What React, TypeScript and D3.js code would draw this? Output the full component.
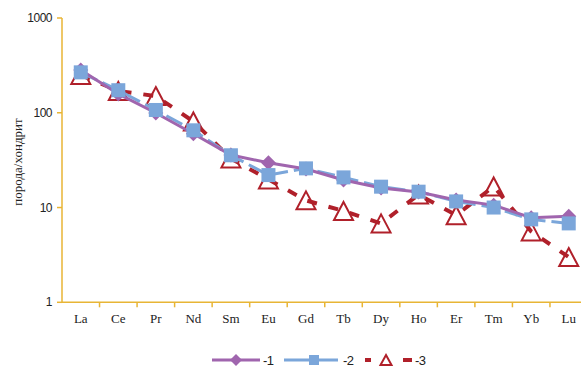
import React from "react";
import * as d3 from "d3";

// REE abundances normalized to chondrite
const elements = ["La", "Ce", "Pr", "Nd", "Sm", "Eu", "Gd", "Tb", "Dy", "Ho", "Er", "Tm", "Yb", "Lu"];
const series1 = [283, 158, 99.5, 60, 35.8, 29.7, 25.5, 19.5, 16.1, 14.6, 12.0, 10.6, 7.8, 8.1];
const series2 = [267, 173, 107, 65.3, 35.6, 22.0, 25.9, 20.8, 16.6, 14.7, 11.6, 10.0, 7.5, 6.8];
const series3 = [250, 170, 150, 81, 32.9, 19.8, 11.9, 9.2, 6.8, 13.7, 8.3, 16.7, 5.6, 3.0];
const yTicks = [1, 10, 100, 1000];
const legendLabels = ["-1", "-2", "-3"];

const W = 581;
const H = 367;
const left = 62;
const top = 18;
const bottom = 302.3;
const right = 587.5;

const AXIS = "#E8B535";
const PURPLE = "#A065AE";
const BLUE = "#7BA6DA";
const RED = "#B0202A";

export default function App() {
  const x = d3.scaleBand<string>().domain(elements).range([left, right]).padding(0);
  const y = d3.scaleLog().domain([1, 1000]).range([bottom, top]);
  const cx = (e: string) => (x(e) as number) + x.bandwidth() / 2;

  const line = d3
    .line<[string, number]>()
    .x((d) => cx(d[0]))
    .y((d) => y(d[1]));

  const pts = (vals: number[]) => elements.map((e, i) => [e, vals[i]] as [string, number]);

  const diamond = (px: number, py: number, r: number, key: string) => (
    <path key={key} d={`M${px},${py - r}L${px + r},${py}L${px},${py + r}L${px - r},${py}Z`} fill={PURPLE} />
  );
  const square = (px: number, py: number, s: number, key: string) => (
    <rect key={key} x={px - s / 2} y={py - s / 2} width={s} height={s} fill={BLUE} />
  );
  const triangle = (px: number, py: number, w: number, h: number, key: string, sw = 2) => (
    <path
      key={key}
      d={`M${px},${py - h / 2}L${px + w / 2},${py + h / 2}L${px - w / 2},${py + h / 2}Z`}
      fill="none"
      stroke={RED}
      strokeWidth={sw}
      strokeLinejoin="miter"
    />
  );

  const ticks = d3.range(1, elements.length).map((i) => left + i * x.bandwidth());
  const legendY = 360;

  return (
    <svg width={W} height={H} style={{ position: "absolute", left: 0, top: 0, display: "block" }}>
      <rect width={W} height={H} fill="white" />

      {/* axes */}
      <line x1={left} y1={top} x2={left} y2={bottom} stroke={AXIS} strokeWidth={1.5} />
      <line x1={left} y1={bottom} x2={right} y2={bottom} stroke={AXIS} strokeWidth={1.5} />
      {yTicks.map((t) => (
        <g key={t}>
          <line x1={left - 5} x2={left} y1={y(t)} y2={y(t)} stroke={AXIS} strokeWidth={1.5} />
          <text
            x={left - 10}
            y={y(t) + 4}
            textAnchor="end"
            fontFamily="Liberation Sans, Arial, sans-serif"
            fontSize={12}
            fill="#222"
            letterSpacing={-0.5}
          >
            {t}
          </text>
        </g>
      ))}
      {ticks.map((tx, i) => (
        <line key={i} x1={tx} x2={tx} y1={bottom} y2={bottom + 5} stroke={AXIS} strokeWidth={1.5} />
      ))}
      {elements.map((e) => (
        <text
          key={e}
          x={cx(e)}
          y={323}
          textAnchor="middle"
          fontFamily="Liberation Serif, Times New Roman, serif"
          fontSize={13}
          fill="#222"
        >
          {e}
        </text>
      ))}
      <text
        transform={`translate(22,162) rotate(-90)`}
        textAnchor="middle"
        fontFamily="Liberation Serif, Times New Roman, serif"
        fontSize={13}
        fill="#222"
      >
        порода/хондрит
      </text>

      {/* series 3: dashed red with hollow triangles */}
      <path d={line(pts(series3)) || ""} fill="none" stroke={RED} strokeWidth={4} strokeDasharray="10,12" />
      {elements.map((e, i) => triangle(cx(e), y(series3[i]), 19, 18, "t" + e))}
      {/* series 2: long-dash blue */}
      <path d={line(pts(series2)) || ""} fill="none" stroke={BLUE} strokeWidth={3} strokeDasharray="18,6" />
      {/* series 1: solid purple with diamonds */}
      <path d={line(pts(series1)) || ""} fill="none" stroke={PURPLE} strokeWidth={3} />
      {elements.map((e, i) => diamond(cx(e), y(series1[i]), 7.5, "d" + e))}
      {/* series 2 squares */}
      {elements.map((e, i) => square(cx(e), y(series2[i]), 14, "s" + e))}

      {/* legend */}
      <line x1={212} x2={260} y1={legendY} y2={legendY} stroke={PURPLE} strokeWidth={3} />
      {diamond(236, legendY, 6, "ld")}
      <line x1={284} x2={338} y1={legendY} y2={legendY} stroke={BLUE} strokeWidth={3} />
      {square(314, legendY, 10, "ls")}
      <line x1={365} x2={371} y1={legendY} y2={legendY} stroke={RED} strokeWidth={4} />
      <line x1={403} x2={412} y1={legendY} y2={legendY} stroke={RED} strokeWidth={4} />
      {triangle(386, legendY, 11, 10, "lt", 2)}
      {legendLabels.map((l, i) => (
        <text
          key={l}
          x={[263, 343, 415][i]}
          y={legendY + 5}
          fontFamily="Liberation Sans, Arial, sans-serif"
          fontSize={13}
          fill="#222"
          letterSpacing={-0.5}
        >
          {l}
        </text>
      ))}
    </svg>
  );
}
